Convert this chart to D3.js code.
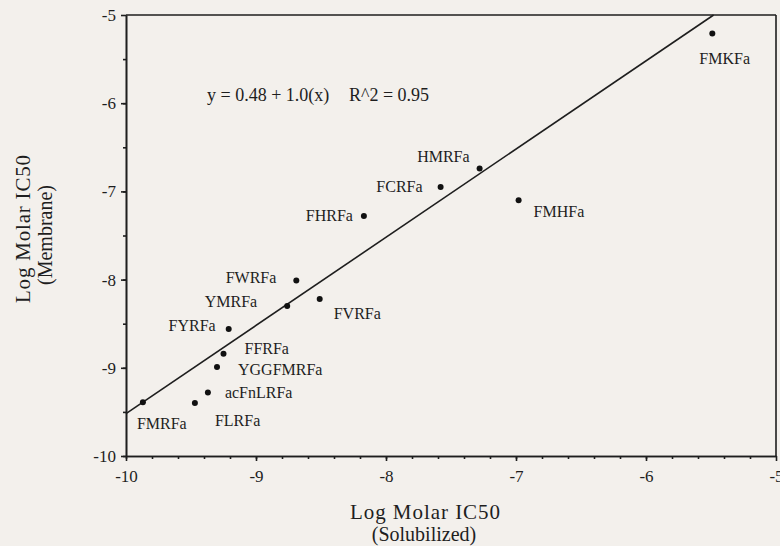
<!DOCTYPE html>
<html>
<head>
<meta charset="utf-8">
<script src="https://cdn.jsdelivr.net/npm/d3@7"></script>
<style>
  html, body { margin: 0; padding: 0; background: #f3f0ec; }
  svg { display: block; }
  text { font-family: "Liberation Serif", "Times New Roman", serif; fill: #1e1e1e; }
</style>
</head>
<body>
<svg id="chart" width="780" height="546"></svg>
<script>
// ---- data ----
const peptides = ["FMKFa","HMRFa","FCRFa","FMHFa","FHRFa","FWRFa","YMRFa","FVRFa","FYRFa","FFRFa","YGGFMRFa","acFnLRFa","FLRFa","FMRFa"];
const solubilized = [-5.49,-7.28,-7.58,-6.98,-8.17,-8.69,-8.76,-8.51,-9.21,-9.25,-9.30,-9.37,-9.47,-9.87];
const membrane    = [-5.21,-6.74,-6.95,-7.10,-7.28,-8.01,-8.30,-8.22,-8.56,-8.84,-8.99,-9.28,-9.40,-9.39];
const xTicks = [-10,-9,-8,-7,-6,-5];
const yTicks = [-10,-9,-8,-7,-6,-5];
const fitIntercept = 0.48;
const fitSlope = 1.0;
const equationText = "y = 0.48 + 1.0(x)";
const r2Text = "R^2 = 0.95";
const xTitle = ["Log Molar IC50","(Solubilized)"];
const yTitle = ["Log Molar IC50","(Membrane)"];

// ---- label layout (pixel offsets from point, anchor) ----
const labelLayout = {
  "FMKFa":   {dx:-13, dy:30, anchor:"start"},
  "HMRFa":   {dx:-10, dy:-6, anchor:"end"},
  "FCRFa":   {dx:-18, dy:5,  anchor:"end"},
  "FMHFa":   {dx:15,  dy:17, anchor:"start"},
  "FHRFa":   {dx:-11, dy:5,  anchor:"end"},
  "FWRFa":   {dx:-20, dy:3,  anchor:"end"},
  "YMRFa":   {dx:-30, dy:1,  anchor:"end"},
  "FVRFa":   {dx:14,  dy:20, anchor:"start"},
  "FYRFa":   {dx:-13, dy:2,  anchor:"end"},
  "FFRFa":   {dx:21,  dy:0,  anchor:"start"},
  "YGGFMRFa":{dx:21,  dy:8,  anchor:"start"},
  "acFnLRFa":{dx:17,  dy:6,  anchor:"start"},
  "FLRFa":   {dx:20,  dy:23, anchor:"start"},
  "FMRFa":   {dx:-6,  dy:27, anchor:"start"}
};

const svg = d3.select("#chart");
const L = 126, R = 776, T = 15, B = 456;
const x = d3.scaleLinear().domain([-10,-5]).range([L,R]);
const y = d3.scaleLinear().domain([-10,-5]).range([B,T]);
const ink = "#1e1e1e";

// frame top/right
svg.append("line").attr("x1",L).attr("x2",R).attr("y1",T).attr("y2",T).attr("stroke",ink).attr("stroke-width",1.6);
svg.append("line").attr("x1",R).attr("x2",R).attr("y1",T).attr("y2",B).attr("stroke",ink).attr("stroke-width",1.6);

// minor ticks
const xMinor = d3.range(-10, -5.0001, 0.2).map(v => +v.toFixed(1));
const yMinor = d3.range(-10, -5.0001, 0.5).map(v => +v.toFixed(1));
svg.append("g").attr("transform",`translate(0,${B})`)
  .call(d3.axisBottom(x).tickValues(xMinor).tickSize(3).tickSizeOuter(0).tickFormat(""))
  .call(g => g.selectAll("line,path").attr("stroke",ink).attr("stroke-width",1.6));
svg.append("g").attr("transform",`translate(${L},0)`)
  .call(d3.axisLeft(y).tickValues(yMinor).tickSize(3).tickSizeOuter(0).tickFormat(""))
  .call(g => g.selectAll("line,path").attr("stroke",ink).attr("stroke-width",1.6));

// major axes
const fmt = d => String(d);
const gx = svg.append("g").attr("transform",`translate(0,${B})`)
  .call(d3.axisBottom(x).tickValues(xTicks).tickSize(5).tickSizeOuter(0).tickPadding(9).tickFormat(fmt));
gx.selectAll("line,path").attr("stroke",ink).attr("stroke-width",1.6);
gx.selectAll("text").attr("font-size",17).attr("font-family","Liberation Serif").attr("fill",ink);

const gy = svg.append("g").attr("transform",`translate(${L},0)`)
  .call(d3.axisLeft(y).tickValues(yTicks).tickSize(5).tickSizeOuter(0).tickPadding(5).tickFormat(fmt));
gy.selectAll("line,path").attr("stroke",ink).attr("stroke-width",1.6);
gy.selectAll("text").attr("font-size",17).attr("font-family","Liberation Serif").attr("fill",ink);

// regression line
const xEnd = (-5 - fitIntercept) / fitSlope;
svg.append("line")
  .attr("x1",x(-10)).attr("y1",y(fitIntercept + fitSlope*(-10)))
  .attr("x2",x(xEnd)).attr("y2",y(fitIntercept + fitSlope*xEnd))
  .attr("stroke",ink).attr("stroke-width",1.6);

// points
const pts = peptides.map((p,i) => ({name:p, sx:solubilized[i], my:membrane[i]}));
svg.append("g").selectAll("circle").data(pts).join("circle")
  .attr("cx",d => x(d.sx)).attr("cy",d => y(d.my)).attr("r",3).attr("fill","#111");

svg.append("g").selectAll("text").data(pts).join("text")
  .attr("x",d => x(d.sx) + labelLayout[d.name].dx)
  .attr("y",d => y(d.my) + labelLayout[d.name].dy)
  .attr("text-anchor",d => labelLayout[d.name].anchor)
  .attr("font-size",16)
  .text(d => d.name);

// equation
svg.append("text").attr("x",207).attr("y",101).attr("font-size",18).text(equationText);
svg.append("text").attr("x",349).attr("y",101).attr("font-size",18).text(r2Text);

// axis titles
svg.append("text").attr("x",425).attr("y",519).attr("text-anchor","middle").attr("font-size",21).attr("textLength",150).text(xTitle[0]);
svg.append("text").attr("x",424).attr("y",541).attr("text-anchor","middle").attr("font-size",20).text(xTitle[1]);
svg.append("text").attr("transform","translate(30,229) rotate(-90)").attr("text-anchor","middle").attr("font-size",21).attr("textLength",148).text(yTitle[0]);
svg.append("text").attr("transform","translate(52,235) rotate(-90)").attr("text-anchor","middle").attr("font-size",20).text(yTitle[1]);
</script>
</body>
</html>
